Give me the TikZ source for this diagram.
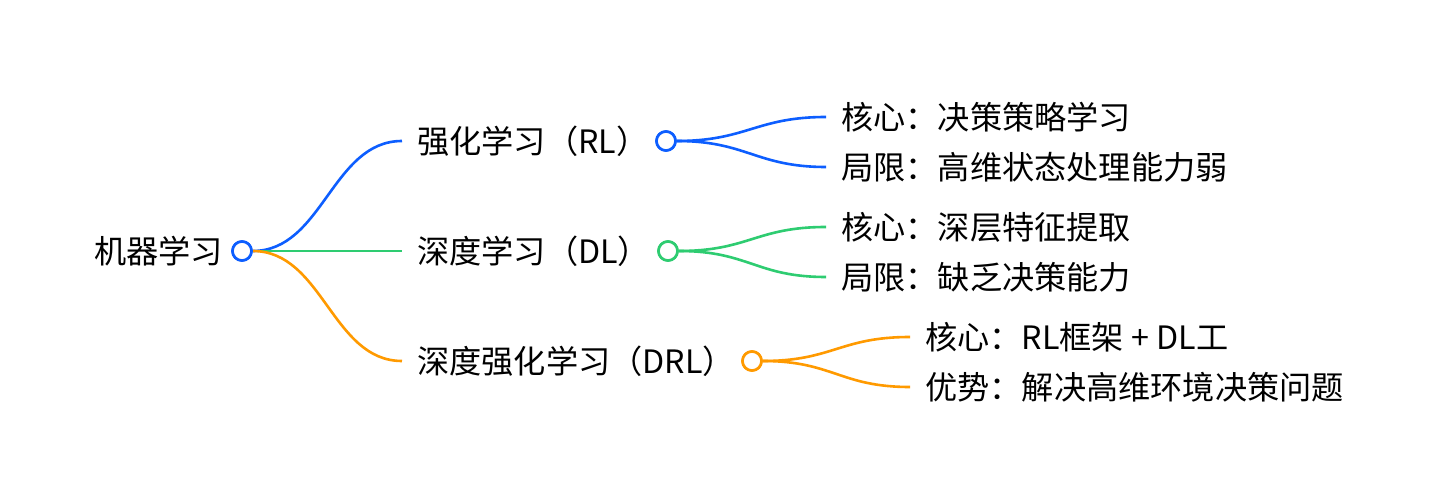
\documentclass[tikz,border=0pt]{standalone}
\usepackage{fontspec}
\setmainfont{Noto Sans CJK SC}
\definecolor{cblue}{HTML}{0D5EFF}
\definecolor{cgreen}{HTML}{2ECC71}
\definecolor{corange}{HTML}{FF9A00}
\begin{document}
\begin{tikzpicture}[x=1pt,y=-1pt,
  dot/.style={circle, draw, fill=white, line width=2.6pt, minimum size=19pt, inner sep=0pt},
  lbl/.style={anchor=west, inner xsep=15pt, inner ysep=0pt, font=\fontsize{32.2}{38}\selectfont},
  link/.style={line width=2.6pt}]
\useasboundingbox (0,0) rectangle (1442,502);
\fill[white] (0,0) rectangle (1442,502);
% root
\node[dot, draw=cblue] (c0) at (242,251) {};
\node[anchor=east, inner xsep=8pt, inner ysep=0pt, font=\fontsize{32.2}{38}\selectfont] (t0) at (c0.west) {机器学习};
% level 1
\node[lbl] (t1) at (402,141) {强化学习（RL）};
\node[lbl] (t2) at (402,251) {深度学习（DL）};
\node[lbl] (t3) at (402,361) {深度强化学习（DRL）};
\node[dot, draw=cblue] (c1) at (666,141) {};
\node[dot, draw=cgreen] (c2) at (668,251) {};
\node[dot, draw=corange] (c3) at (752,361) {};
\draw[link, cblue] (c0.east) .. controls +(70,0) and +(-70,0) .. (t1.west);
\draw[link, cgreen] (c0.east) -- (t2.west);
\draw[link, corange] (c0.east) .. controls +(70,0) and +(-70,0) .. (t3.west);
% level 2
\node[lbl] (t11) at (826,117) {核心：决策策略学习};
\node[lbl] (t12) at (826,167) {局限：高维状态处理能力弱};
\node[lbl] (t21) at (826,227) {核心：深层特征提取};
\node[lbl] (t22) at (826,277) {局限：缺乏决策能力};
\node[lbl] (t31) at (910,337) {核心：RL框架 + DL工};
\node[lbl] (t32) at (910,387) {优势：解决高维环境决策问题};
\draw[link, cblue] (c1.east) .. controls +(70,0) and +(-70,0) .. (t11.west);
\draw[link, cblue] (c1.east) .. controls +(70,0) and +(-70,0) .. (t12.west);
\draw[link, cgreen] (c2.east) .. controls +(70,0) and +(-70,0) .. (t21.west);
\draw[link, cgreen] (c2.east) .. controls +(70,0) and +(-70,0) .. (t22.west);
\draw[link, corange] (c3.east) .. controls +(70,0) and +(-70,0) .. (t31.west);
\draw[link, corange] (c3.east) .. controls +(70,0) and +(-70,0) .. (t32.west);
% redraw dots on top
\node[dot, draw=cblue] at (c0) {};
\node[dot, draw=cblue] at (c1) {};
\node[dot, draw=cgreen] at (c2) {};
\node[dot, draw=corange] at (c3) {};
\end{tikzpicture}
\end{document}
